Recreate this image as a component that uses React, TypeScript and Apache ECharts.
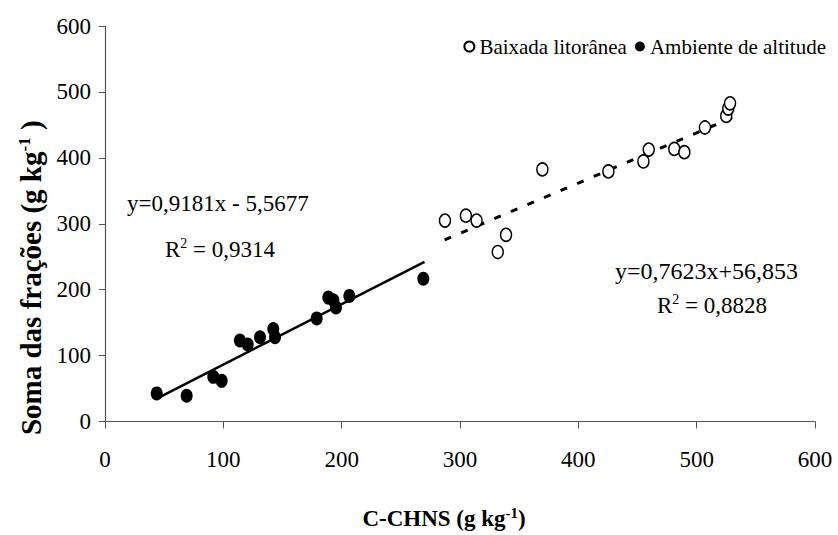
import React, { useEffect, useRef } from "react";
import * as echarts from "echarts";

const altitudeX = [43.7, 69, 91.5, 98.6, 114, 120.6, 131, 142.2, 143.7, 178.9, 188.7, 193, 195.2, 206.5, 269];
const altitudeY = [42.6, 39, 67.7, 61.7, 122.8, 116.8, 127.8, 140.3, 127.8, 156.4, 188, 184, 173, 190.5, 216.5];

const baixadaX = [287.3, 305, 314, 338.9, 331.9, 369.6, 425.4, 455, 459.5, 481.1, 489.6, 507, 525, 526.7, 528.2];
const baixadaY = [304.8, 312.3, 304.8, 283.2, 257.1, 382.4, 379.4, 394.5, 412.5, 413.5, 408.6, 446, 463.6, 474.7, 482.7];

// regression: [slope, intercept], fitted x-range
const altitudeFit = [0.9181, -5.5677];
const altitudeRange = [45, 270];
const baixadaFit = [0.7623, 56.853];
const baixadaRange = [287, 530];

const xTicks = [0, 100, 200, 300, 400, 500, 600];
const yTicks = [0, 100, 200, 300, 400, 500, 600];

const FONT = "'Liberation Serif', 'Times New Roman', serif";

export default function App() {
  const ref = useRef<HTMLDivElement>(null);
  useEffect(() => {
    if (!ref.current) return;
    document.body.style.margin = "0";
    const chart = echarts.init(ref.current, undefined, { renderer: "svg" });
    const pts = (xs: number[], ys: number[]) => xs.map((x, i) => [x, ys[i]]);
    const fitLine = (fit: number[], r: number[]) => r.map((x) => [x, fit[0] * x + fit[1]]);
    const axisLine = { lineStyle: { color: "#555", width: 1.2 } };
    const tickRich = { t: { fontFamily: FONT, fontSize: 23, color: "#000" } };
    const eqRich = (size: number) => ({
      n: { fontFamily: FONT, fontSize: size, color: "#000" },
      s: { fontFamily: FONT, fontSize: 14, color: "#000", padding: [0, 0, 12, 0] },
    });
    chart.setOption({
      animation: false,
      textStyle: { fontFamily: FONT },
      grid: { left: 105, right: 23, top: 26, bottom: 110 },
      legend: {
        right: 7,
        top: 31,
        itemWidth: 10,
        itemHeight: 10,
        itemGap: 8,
        formatter: (name: string) => `{t|${name}}`,
        textStyle: {
          fontFamily: FONT,
          fontSize: 21,
          color: "#000",
          rich: { t: { fontFamily: FONT, fontSize: 21, color: "#000" } },
        },
        data: [
          { name: "Baixada litorânea", icon: "circle" },
          { name: "Ambiente de altitude", icon: "circle" },
        ],
      },
      xAxis: {
        type: "value",
        min: xTicks[0],
        max: xTicks[xTicks.length - 1],
        interval: 100,
        splitLine: { show: false },
        axisLine,
        axisTick: { show: true, length: 7, lineStyle: { color: "#555" } },
        axisLabel: {
          fontFamily: FONT,
          fontSize: 23,
          color: "#000",
          margin: 26,
          formatter: (v: number) => `{t|${v}}`,
          rich: tickRich,
        },
        name: "{b|C-CHNS (g kg}{s|-1}{b|)}",
        nameLocation: "middle",
        nameGap: 84,
        nameTextStyle: {
          padding: [0, 32, 0, 0],
          rich: {
            b: { fontFamily: FONT, fontSize: 23, fontWeight: "bold", color: "#000" },
            s: { fontFamily: FONT, fontSize: 15, fontWeight: "bold", color: "#000", padding: [0, 0, 11, 0] },
          },
        },
      },
      yAxis: {
        type: "value",
        min: yTicks[0],
        max: yTicks[yTicks.length - 1],
        interval: 100,
        splitLine: { show: false },
        axisLine: { show: true, ...axisLine },
        axisTick: { show: true, length: 6, lineStyle: { color: "#555" } },
        axisLabel: {
          fontFamily: FONT,
          fontSize: 23,
          color: "#000",
          margin: 14,
          formatter: (v: number) => `{t|${v}}`,
          rich: tickRich,
        },
        name: "{b|Soma das frações (g kg}{s|-1}{b| )}",
        nameLocation: "middle",
        nameGap: 56,
        nameTextStyle: {
          padding: [0, 108, 0, 0],
          rich: {
            b: { fontFamily: FONT, fontSize: 29, fontWeight: "bold", color: "#000" },
            s: { fontFamily: FONT, fontSize: 17, fontWeight: "bold", color: "#000", padding: [0, 0, 13, 0] },
          },
        },
      },
      series: [
        {
          name: "Baixada litorânea",
          type: "scatter",
          data: pts(baixadaX, baixadaY),
          symbol: "circle",
          symbolSize: [11, 13],
          itemStyle: { color: "#fff", borderColor: "#000", borderWidth: 1.5, opacity: 1 },
          z: 3,
        },
        {
          name: "Ambiente de altitude",
          type: "scatter",
          data: pts(altitudeX, altitudeY),
          symbol: "circle",
          symbolSize: [12, 14],
          itemStyle: { color: "#000", opacity: 1 },
          z: 3,
        },
        {
          name: "fit-altitude",
          type: "line",
          data: fitLine(altitudeFit, altitudeRange),
          showSymbol: false,
          symbol: "none",
          lineStyle: { color: "#000", width: 2.5 },
          z: 2,
        },
        {
          name: "fit-baixada",
          type: "line",
          data: fitLine(baixadaFit, baixadaRange),
          showSymbol: false,
          symbol: "none",
          lineStyle: { color: "#000", width: 3, type: [7, 11] },
          z: 2,
        },
      ],
      graphic: [
        {
          type: "text",
          left: 127,
          top: 192,
          style: { text: "{n|y=0,9181x - 5,5677}", rich: eqRich(23) },
        },
        {
          type: "text",
          left: 165,
          top: 236,
          style: { text: "{n|R}{s|2}{n| = 0,9314}", rich: eqRich(23) },
        },
        {
          type: "text",
          left: 615,
          top: 259,
          style: { text: "{n|y=0,7623x+56,853}", rich: eqRich(24) },
        },
        {
          type: "text",
          left: 657,
          top: 292,
          style: { text: "{n|R}{s|2}{n| = 0,8828}", rich: eqRich(23) },
        },
      ],
    });
    return () => chart.dispose();
  }, []);
  return <div ref={ref} style={{ width: 838, height: 535 }} />;
}
